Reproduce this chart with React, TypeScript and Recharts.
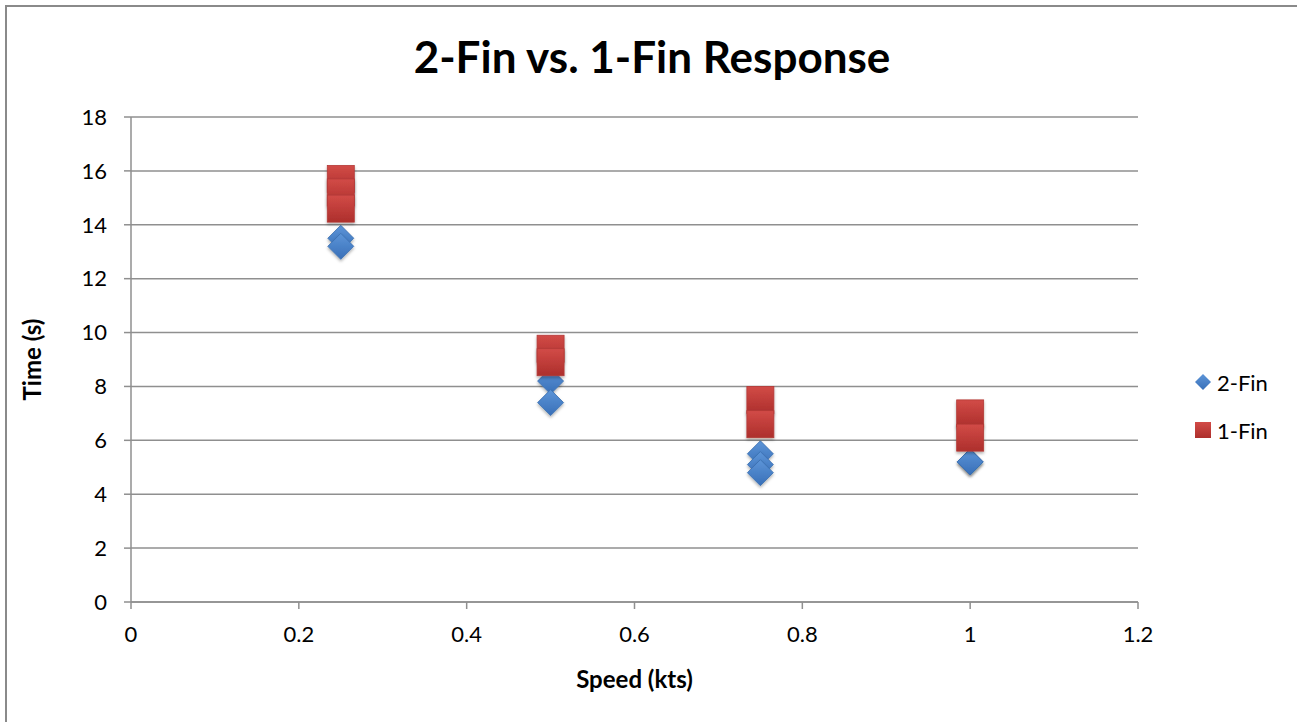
import React from 'react';
import { ScatterChart, Scatter, XAxis, YAxis, CartesianGrid } from 'recharts';

const speed2Fin = [0.25, 0.25, 0.5, 0.5, 0.75, 0.75, 0.75, 1, 1];
const time2Fin = [13.5, 13.2, 8.2, 7.4, 5.5, 5.1, 4.8, 5.2, 5.2];

const speed1Fin = [0.25, 0.25, 0.25, 0.5, 0.5, 0.75, 0.75, 1, 1];
const time1Fin = [15.7, 15.2, 14.6, 9.4, 8.9, 7.5, 6.6, 7.0, 6.1];

const xTicks = [0, 0.2, 0.4, 0.6, 0.8, 1, 1.2];
const yTicks = [0, 2, 4, 6, 8, 10, 12, 14, 16, 18];

const seriesNames = ['2-Fin', '1-Fin'];

const data2Fin = speed2Fin.map((s, i) => ({ speed: s, time: time2Fin[i] }));
const data1Fin = speed1Fin.map((s, i) => ({ speed: s, time: time1Fin[i] }));

const FONT = 'Lato, "Liberation Sans", sans-serif';
const GRID = '#8f8f8f';

const Diamond = (props: any) => {
  const { cx, cy } = props;
  const r = 13;
  return (
    <path
      d={`M${cx},${cy - r} L${cx + r},${cy} L${cx},${cy + r} L${cx - r},${cy} Z`}
      fill="url(#blueGrad)"
      stroke="#3a6fb0"
      strokeWidth={0.8}
      filter="url(#shadow)"
    />
  );
};

const Square = (props: any) => {
  const { cx, cy } = props;
  const h = 13.5;
  return (
    <rect
      x={cx - h}
      y={cy - h}
      width={h * 2}
      height={h * 2}
      fill="url(#redGrad)"
      stroke="#b33a37"
      strokeWidth={0.8}
      filter="url(#shadow)"
    />
  );
};

const YLabel = (props: any) => {
  const vb = props.viewBox;
  const x = 31;
  const y = vb.y + vb.height / 2;
  return (
    <text
      x={x}
      y={y}
      transform={`rotate(-90, ${x}, ${y})`}
      textAnchor="middle"
      dominantBaseline="central"
      fontFamily={FONT}
      fontWeight="bold"
      fontSize={24}
      fill="#000"
    >
      Time (s)
    </text>
  );
};

export default function App() {
  return (
    <div style={{ position: 'fixed', left: 0, top: 0, width: 1297, height: 722, background: '#fff' }}>
      <div
        style={{
          position: 'absolute',
          left: 5,
          top: 5,
          width: 1300,
          height: 730,
          borderLeft: '2px solid #8a8a8a',
          borderTop: '2px solid #8a8a8a',
        }}
      />
      <div
        style={{
          position: 'absolute',
          left: 0,
          top: 30,
          width: 1304,
          textAlign: 'center',
          fontFamily: FONT,
          fontWeight: 'bold',
          fontSize: 44,
          color: '#000',
        }}
      >
        2-Fin vs. 1-Fin Response
      </div>
      <ScatterChart
        width={1297}
        height={722}
        margin={{ top: 117, right: 159, left: 0, bottom: 0 }}
        style={{ position: 'absolute', left: 0, top: 0 }}
      >
        <defs>
          <linearGradient id="blueGrad" x1="0" y1="0" x2="0" y2="1">
            <stop offset="0%" stopColor="#5d95d8" />
            <stop offset="100%" stopColor="#386fb8" />
          </linearGradient>
          <linearGradient id="redGrad" x1="0" y1="0" x2="0" y2="1">
            <stop offset="0%" stopColor="#d24b47" />
            <stop offset="100%" stopColor="#ad2f2c" />
          </linearGradient>
          <filter id="shadow" x="-30%" y="-30%" width="160%" height="170%">
            <feDropShadow dx="0" dy="2" stdDeviation="1.5" floodColor="#000" floodOpacity="0.3" />
          </filter>
        </defs>
        <CartesianGrid vertical={false} stroke={GRID} strokeWidth={1.5} />
        <XAxis
          type="number"
          dataKey="speed"
          domain={[0, 1.2]}
          ticks={xTicks}
          interval={0}
          height={120}
          tickSize={7}
          tickMargin={17}
          axisLine={{ stroke: GRID, strokeWidth: 1.5 }}
          tickLine={{ stroke: GRID, strokeWidth: 1.5 }}
          tick={{ fontFamily: FONT, fontSize: 22, fill: '#000' }}
          label={{
            value: 'Speed (kts)',
            position: 'insideBottom',
            offset: 34,
            style: { fontFamily: FONT, fontWeight: 'bold', fontSize: 24, fill: '#000' },
          }}
        />
        <YAxis
          type="number"
          dataKey="time"
          domain={[0, 18]}
          ticks={yTicks}
          interval={0}
          width={131}
          tickSize={7}
          tickMargin={17}
          axisLine={{ stroke: GRID, strokeWidth: 1.5 }}
          tickLine={{ stroke: GRID, strokeWidth: 1.5 }}
          tick={{ fontFamily: FONT, fontSize: 22, fill: '#000' }}
          label={<YLabel />}
        />
        <Scatter name={seriesNames[0]} data={data2Fin} shape={Diamond} isAnimationActive={false} />
        <Scatter name={seriesNames[1]} data={data1Fin} shape={Square} isAnimationActive={false} />
      </ScatterChart>
      <div
        style={{
          position: 'absolute',
          left: 1194,
          top: 368,
          fontFamily: FONT,
          fontSize: 22,
          color: '#000',
        }}
      >
        <div style={{ display: 'flex', alignItems: 'center', height: 28, marginBottom: 20 }}>
          <svg width={18} height={18} style={{ marginRight: 5 }}>
            <path d="M9,1 L17,9 L9,17 L1,9 Z" fill="url(#blueGrad)" />
          </svg>
          {seriesNames[0]}
        </div>
        <div style={{ display: 'flex', alignItems: 'center', height: 28 }}>
          <svg width={18} height={18} style={{ marginRight: 5 }}>
            <rect x={1} y={1} width={16} height={16} fill="url(#redGrad)" />
          </svg>
          {seriesNames[1]}
        </div>
      </div>
    </div>
  );
}
